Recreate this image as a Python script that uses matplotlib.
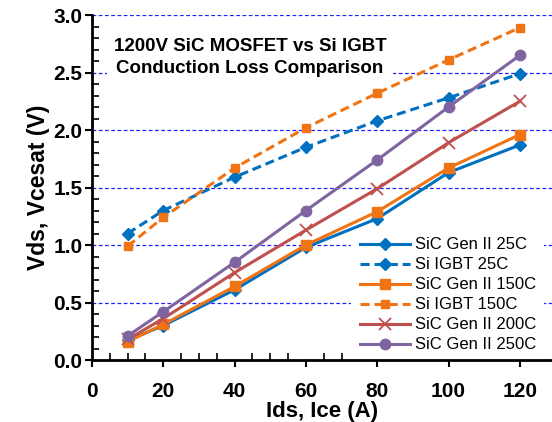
import matplotlib.pyplot as plt

plt.rcParams["font.family"] = ["Liberation Sans", "DejaVu Sans"]

current = [10, 20, 40, 60, 80, 100, 120]  # A

sic_25 = [0.17, 0.30, 0.61, 0.98, 1.23, 1.63, 1.87]
igbt_25 = [1.10, 1.30, 1.59, 1.85, 2.08, 2.28, 2.49]
sic_150 = [0.16, 0.31, 0.64, 1.00, 1.29, 1.67, 1.96]
igbt_150 = [0.99, 1.24, 1.67, 2.02, 2.32, 2.61, 2.89]
sic_200 = [0.18, 0.36, 0.76, 1.13, 1.49, 1.89, 2.25]
sic_250 = [0.21, 0.42, 0.85, 1.30, 1.74, 2.20, 2.65]

blue = "#0070C0"
orange = "#F07414"
red = "#C0504D"
purple = "#8064A2"

fig = plt.figure(figsize=(5.52, 4.22), dpi=100)
ax = fig.add_axes([92 / 552, 62 / 422, 460 / 552, 345 / 422])

dash = (3, 1.6)
ax.plot(current, sic_25, color=blue, lw=2.2, marker="D", ms=6.5,
        label="SiC Gen II 25C", zorder=3)
ax.plot(current, igbt_25, color=blue, lw=2.2, ls="--", dashes=dash, marker="D",
        ms=6.5, label="Si IGBT 25C", zorder=3)
ax.plot(current, sic_150, color=orange, lw=2.2, marker="s", ms=7,
        label="SiC Gen II 150C", zorder=3)
ax.plot(current, igbt_150, color=orange, lw=2.2, ls="--", dashes=dash,
        marker="s", ms=6, label="Si IGBT 150C", zorder=3)
ax.plot(current, sic_200, color=red, lw=2.2, marker="x", ms=8, mew=1.3,
        label="SiC Gen II 200C", zorder=3)
ax.plot(current, sic_250, color=purple, lw=2.2, marker="o", ms=7.5,
        label="SiC Gen II 250C", zorder=3)

ax.set_xlim(0, 129)
ax.set_ylim(0, 3.0)
ax.set_xticks(range(0, 121, 20))
ax.set_xticks(range(5, 129, 5), minor=True)
ax.set_yticks([0, 0.5, 1.0, 1.5, 2.0, 2.5, 3.0])
ax.set_yticks([i / 10 for i in range(31)], minor=True)
ax.set_yticklabels(["0.0", "0.5", "1.0", "1.5", "2.0", "2.5", "3.0"])

ax.tick_params(which="major", direction="out", length=5, width=1.5,
               labelsize=15)
ax.tick_params(which="minor", direction="in", length=5, width=1.2)
ax.tick_params(axis="x", which="major", pad=11)
ax.tick_params(axis="y", which="major", pad=2)
for lab in ax.get_xticklabels() + ax.get_yticklabels():
    lab.set_fontweight("bold")

for s in ["top", "right"]:
    ax.spines[s].set_visible(False)
for s in ["left", "bottom"]:
    ax.spines[s].set_linewidth(2)

ax.grid(axis="y", which="major", color="#2020FF", lw=0.9, ls=(0, (3, 2)),
        zorder=1)
ax.set_axisbelow(True)

ax.set_xlabel("Ids, Ice (A)", fontsize=16, fontweight="bold", labelpad=0)
ax.set_ylabel("Vds, Vcesat (V)", fontsize=16.5, fontweight="bold",
              labelpad=2)

ax.text(44.3, 2.63, "1200V SiC MOSFET vs Si IGBT\nConduction Loss Comparison",
        ha="center", va="center", fontsize=13.5, fontweight="bold",
        linespacing=1.35, zorder=2,
        bbox=dict(facecolor="white", edgecolor="none", pad=5))

leg = ax.legend(loc="center left", bbox_to_anchor=(343 / 552, 1 - 295 / 422),
                bbox_transform=fig.transFigure, fontsize=12, frameon=True,
                fancybox=False, framealpha=1, edgecolor="none",
                handlelength=3, handletextpad=0.3, labelspacing=0.3,
                borderpad=0.5)
leg.set_zorder(2)

fig.savefig("out.png", dpi=100)
